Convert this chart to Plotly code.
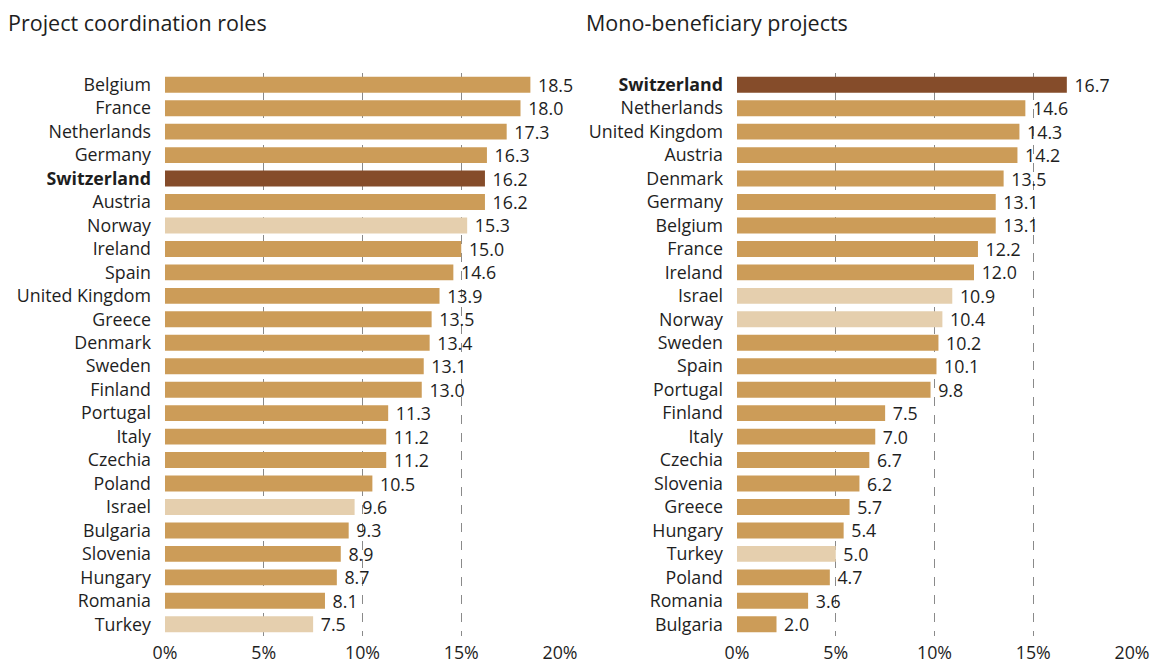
import plotly.graph_objects as go

# left panel: project coordination roles (%)
coord_countries = ["Belgium", "France", "Netherlands", "Germany", "Switzerland", "Austria",
                   "Norway", "Ireland", "Spain", "United Kingdom", "Greece", "Denmark",
                   "Sweden", "Finland", "Portugal", "Italy", "Czechia", "Poland", "Israel",
                   "Bulgaria", "Slovenia", "Hungary", "Romania", "Turkey"]
coord_values = [18.5, 18.0, 17.3, 16.3, 16.2, 16.2, 15.3, 15.0, 14.6, 13.9, 13.5, 13.4,
                13.1, 13.0, 11.3, 11.2, 11.2, 10.5, 9.6, 9.3, 8.9, 8.7, 8.1, 7.5]

# right panel: mono-beneficiary projects (%)
mono_countries = ["Switzerland", "Netherlands", "United Kingdom", "Austria", "Denmark",
                  "Germany", "Belgium", "France", "Ireland", "Israel", "Norway", "Sweden",
                  "Spain", "Portugal", "Finland", "Italy", "Czechia", "Slovenia", "Greece",
                  "Hungary", "Turkey", "Poland", "Romania", "Bulgaria"]
mono_values = [16.7, 14.6, 14.3, 14.2, 13.5, 13.1, 13.1, 12.2, 12.0, 10.9, 10.4, 10.2,
               10.1, 9.8, 7.5, 7.0, 6.7, 6.2, 5.7, 5.4, 5.0, 4.7, 3.6, 2.0]

x_ticks = [0, 5, 10, 15, 20]
x_ticktext = ["0%", "5%", "10%", "15%", "20%"]

associated = {"Norway", "Israel", "Turkey"}
C_MAIN, C_CH, C_ASSOC = "#CC9C58", "#854C2A", "#E5CFAE"
FONT = "Open Sans"
TXT = "#1e1e1e"
FS = 17.8


def colours(names):
    out = []
    for n in names:
        if n == "Switzerland":
            out.append(C_CH)
        elif n in associated:
            out.append(C_ASSOC)
        else:
            out.append(C_MAIN)
    return out


def ticklabels(names):
    return ["<b>%s</b>" % n if n == "Switzerland" else n for n in names]


fig = go.Figure()
for vals, names, xa, ya in [(coord_values, coord_countries, "x", "y"),
                            (mono_values, mono_countries, "x2", "y2")]:
    fig.add_trace(go.Bar(x=vals, y=names, orientation="h",
                         marker=dict(color=colours(names), line_width=0),
                         texttemplate=" %{x:.1f}", textposition="outside",
                         constraintext="none",
                         textfont=dict(size=FS, color=TXT, family=FONT), cliponaxis=False,
                         xaxis=xa, yaxis=ya, width=0.68, hoverinfo="x+y"))

ydom = [28 / 664, 591 / 664]
xcommon = dict(range=[0, 20], tickvals=x_ticks, ticktext=x_ticktext,
               showgrid=True, gridcolor="#8a8a8a", griddash="dash", gridwidth=1,
               zeroline=False, showline=False, ticks="", automargin=False,
               ticklabelstandoff=4,
               tickfont=dict(size=FS, color=TXT, family=FONT))


def ycommon(names):
    return dict(domain=ydom, type="category", automargin=False,
                categoryorder="array", categoryarray=names[::-1],
                tickvals=names, ticktext=ticklabels(names),
                showgrid=False, ticks="", ticklabelstandoff=13,
                tickfont=dict(size=FS, color=TXT, family=FONT))


fig.update_layout(
    width=1153, height=664,
    margin=dict(l=0, r=0, t=0, b=0, autoexpand=False),
    paper_bgcolor="white", plot_bgcolor="white",
    showlegend=False,
    font=dict(family=FONT, color=TXT),
    xaxis=dict(domain=[165 / 1153, 560 / 1153], anchor="y", **xcommon),
    xaxis2=dict(domain=[737 / 1153, 1132 / 1153], anchor="y2", **xcommon),
    yaxis=dict(anchor="x", **ycommon(coord_countries)),
    yaxis2=dict(anchor="x2", **ycommon(mono_countries)),
    annotations=[
        dict(text="Project coordination roles", x=6 / 1153, y=1 - 23 / 664,
             xref="paper", yref="paper", xanchor="left", yanchor="middle",
             showarrow=False, font=dict(size=21.5, color=TXT, family=FONT)),
        dict(text="Mono-beneficiary projects", x=584 / 1153, y=1 - 23 / 664,
             xref="paper", yref="paper", xanchor="left", yanchor="middle",
             showarrow=False, font=dict(size=21.5, color=TXT, family=FONT)),
    ],
)

fig.write_html("out.html", config={"displayModeBar": False},
               post_script="document.body.style.margin='0';")
